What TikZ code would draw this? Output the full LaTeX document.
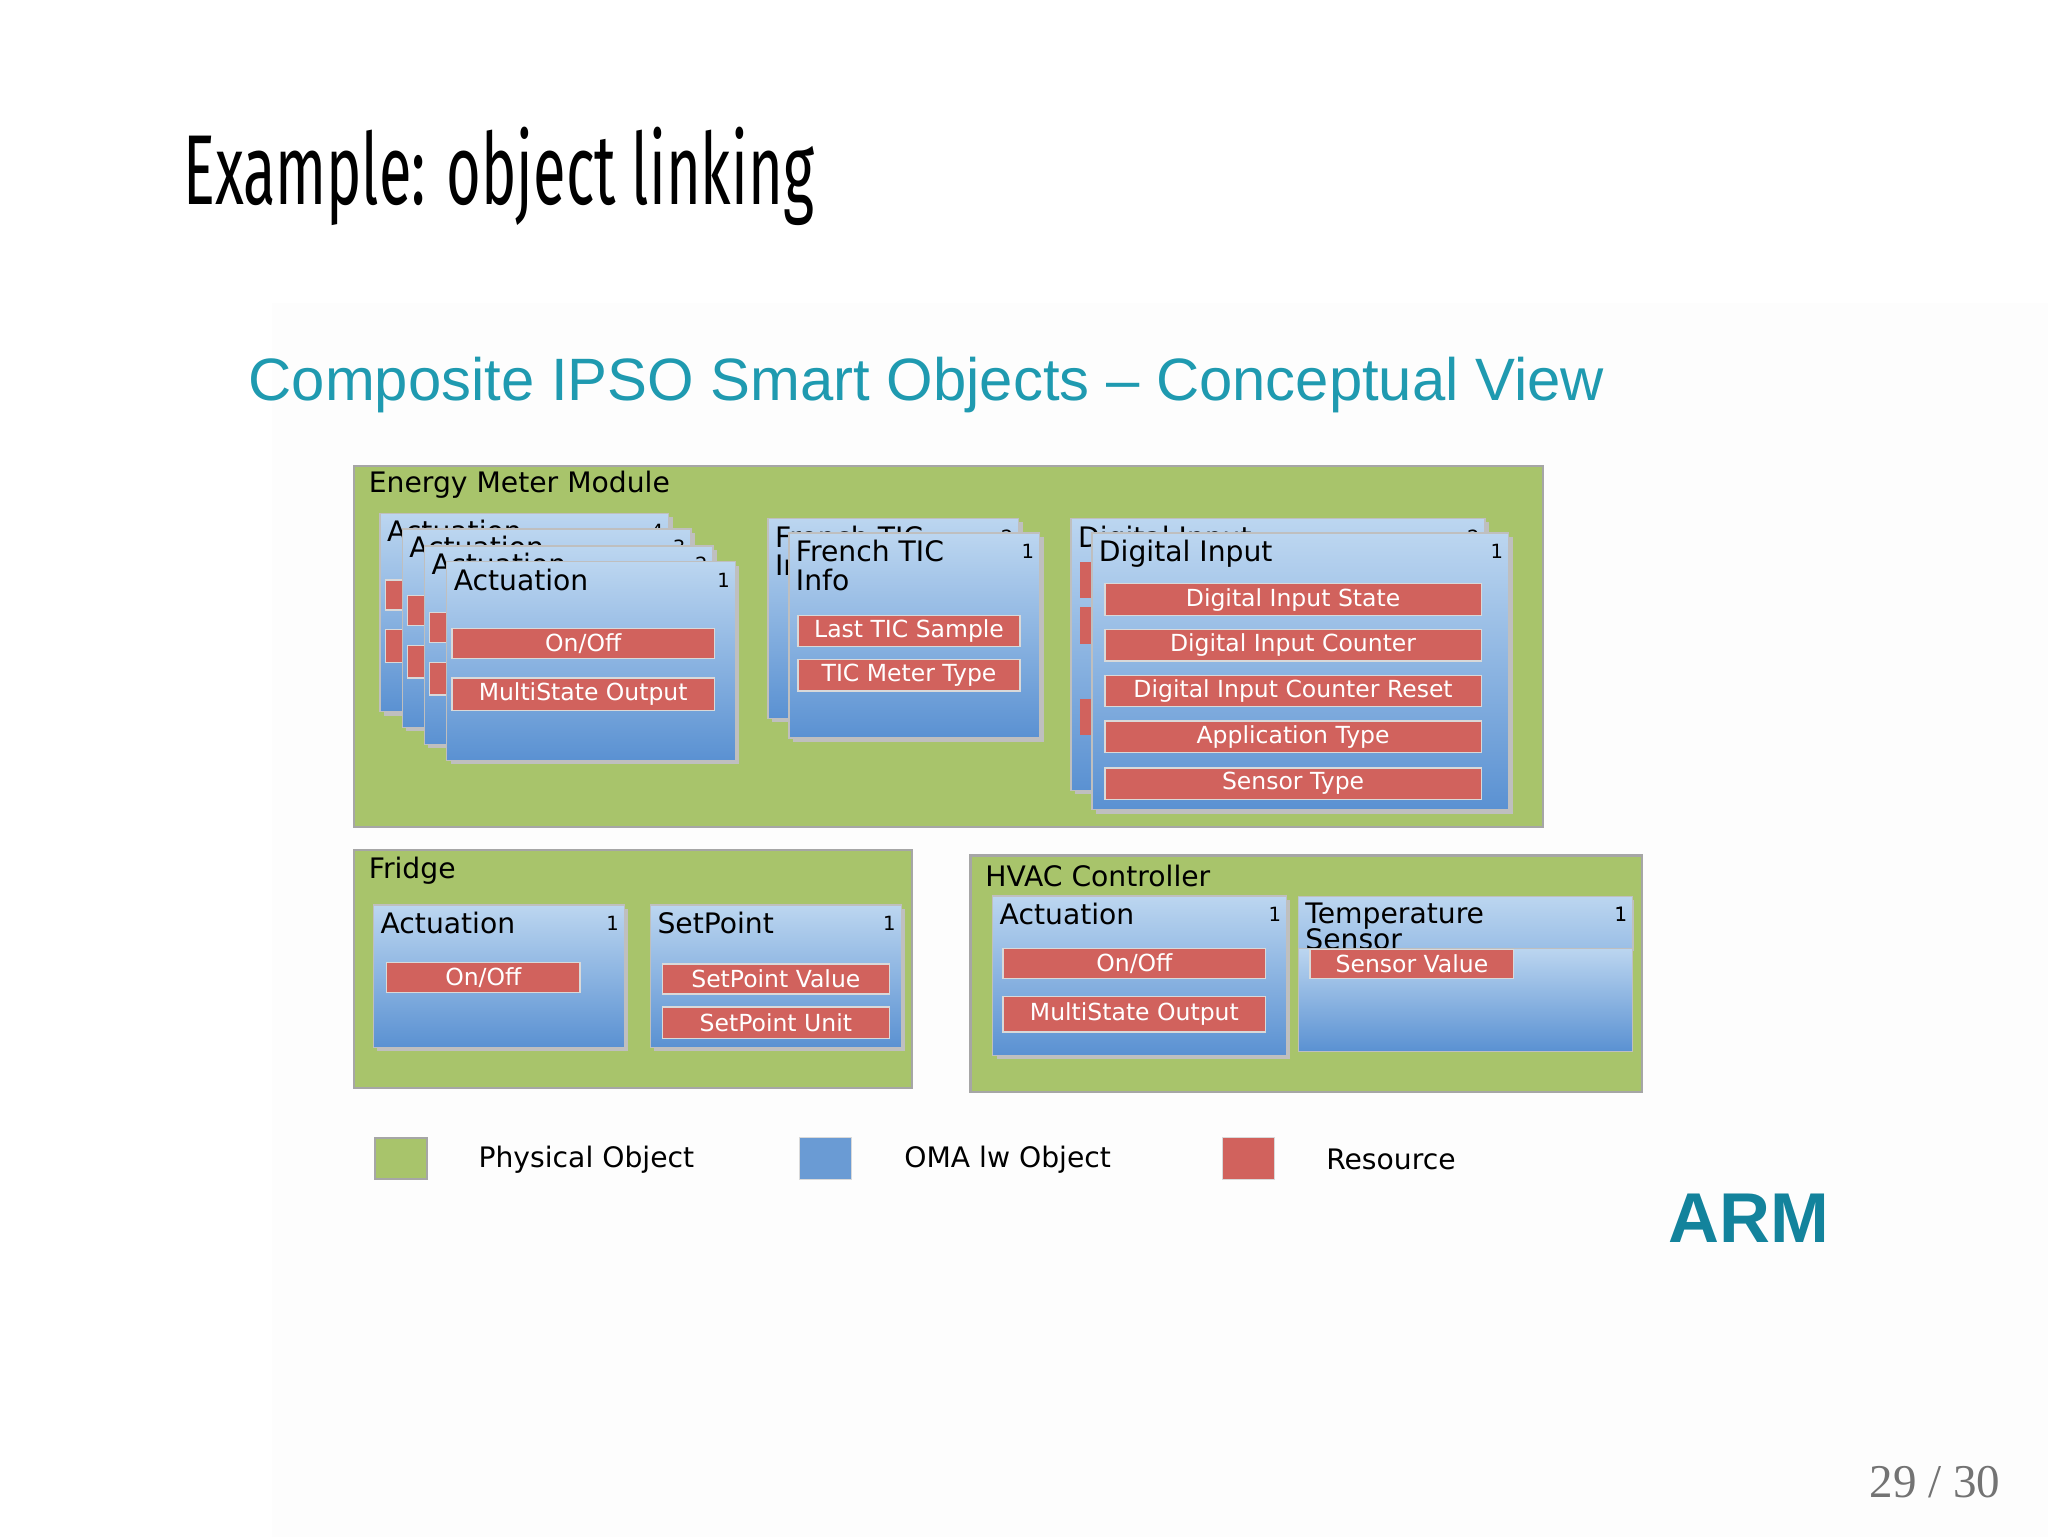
\documentclass[tikz,border=0pt]{standalone}
\usepackage{fontspec}
\setmainfont{DejaVu Sans}
\newfontfamily\subfont{Liberation Sans}
\newfontfamily\titlefont{Fira Sans}
\newfontfamily\numfont{Liberation Serif}
\definecolor{grn}{HTML}{A8C46B}
\definecolor{bltop}{HTML}{BCD6F0}
\definecolor{blbot}{HTML}{5A91D2}
\definecolor{blsw}{HTML}{6A9BD4}
\definecolor{rd}{HTML}{D1625D}
\definecolor{teal}{HTML}{1F9AB0}
\definecolor{armc}{HTML}{13839C}
\tikzset{
  phys/.style={fill=grn,draw=black!35,line width=0.8pt},
  oma/.style={top color=bltop,bottom color=blbot,draw=black!25,line width=0.5pt},
  res/.style={fill=rd,draw=black!15,line width=0.5pt},
  lbl/.style={anchor=west,inner sep=0pt,font=\fontsize{10.8}{11}\selectfont},
  rlbl/.style={text=white,inner sep=0pt,font=\fontsize{9}{9}\selectfont},
  num/.style={inner sep=0pt,font=\fontsize{7.5}{8}\selectfont},
}
\newcommand{\obox}[6]{% x1 y1 x2 y2 title number
  \fill[black!25] (#1+3,#2+3) rectangle (#3+3,#4+3);
  \path[oma] (#1,#2) rectangle (#3,#4);
  \node[lbl,anchor=north west] at (#1+5,#2+5) {#5};
  \node[num] at (#3-9,#2+14) {#6};}
\newcommand{\rbox}[5]{% x1 y1 x2 y2 text
  \path[res] (#1,#2) rectangle (#3,#4);
  \node[rlbl] at ({(#1+#3)/2},{(#2+#4)/2}) {#5};}
\newcommand{\actbox}[3]{% dx dy number
  \obox{#1}{#2}{#1+221}{#2+152}{Actuation}{#3}
  \rbox{#1+4}{#2+51}{#1+205}{#2+74}{On/Off}
  \rbox{#1+4}{#2+89}{#1+205}{#2+114}{MultiState Output}}
\begin{document}
\begin{tikzpicture}[x=0.5pt,y=-0.5pt]
\useasboundingbox (0,0) rectangle (1568,1177);
\fill[white] (0,0) rectangle (1568,1177);
\fill[black!0.7] (208,232) rectangle (1568,1177);
\node[anchor=west,inner sep=0pt,xscale=0.6,font=\titlefont\fontsize{38}{40}\selectfont] (title) at (140,135) {Example: object linking};
\node[anchor=west,inner sep=0pt,text=teal,font=\subfont\fontsize{22.9}{24}\selectfont] (sub) at (190,295) {Composite IPSO Smart Objects – Conceptual View};
% Energy meter module
\path[phys] (271,357) rectangle (1181,633);
\node[lbl] (em) at (282,371) {Energy Meter Module};
\actbox{291}{393}{4}
\actbox{308}{405}{3}
\actbox{325}{418}{2}
\actbox{342}{430}{1}
% French TIC
\obox{588}{397}{780}{550}{\parbox[t]{70pt}{French TIC\\Info}}{2}
\obox{604}{408}{796}{565}{\parbox[t]{70pt}{French TIC\\Info}}{1}
\rbox{611}{471}{781}{495}{Last TIC Sample}
\rbox{611}{505}{781}{529}{TIC Meter Type}
% Digital Input
\obox{820}{397}{1137}{605}{Digital Input}{2}
\fill[rd] (827,430) rectangle (836,458);
\fill[rd] (827,465) rectangle (836,493);
\fill[rd] (827,535) rectangle (836,563);
\obox{836}{408}{1155}{620}{Digital Input}{1}
\rbox{846}{447}{1134}{471}{Digital Input State}
\rbox{846}{482}{1134}{506}{Digital Input Counter}
\rbox{846}{517}{1134}{541}{Digital Input Counter Reset}
\rbox{846}{552}{1134}{576}{Application Type}
\rbox{846}{588}{1134}{612}{Sensor Type}
% Fridge
\path[phys] (271,651) rectangle (698,833);
\node[lbl] (fr) at (282,667) {Fridge};
\obox{286}{693}{478}{802}{Actuation}{1}
\rbox{296}{737}{444}{760}{On/Off}
\obox{498}{693}{690}{802}{SetPoint}{1}
\rbox{507}{738}{681}{761}{SetPoint Value}
\rbox{507}{771}{681}{795}{SetPoint Unit}
% HVAC
\path[phys] (743,655) rectangle (1257,836);
\node[lbl] (hv) at (754,671) {HVAC Controller};
\obox{760}{686}{985}{808}{Actuation}{1}
\rbox{768}{726}{969}{749}{On/Off}
\rbox{768}{763}{969}{790}{MultiState Output}
\begin{scope}
\clip (994,686) rectangle (1251,728);
\obox{994}{686}{1250}{805}{\parbox[t]{100pt}{Temperature\\[-1pt]Sensor}}{1}
\end{scope}
\path[oma] (994,726) rectangle (1250,805);
\node[num] at (1241,700) {1};
\rbox{1003}{727}{1159}{749}{Sensor Value}
% legend
\path[phys] (287,871) rectangle (327,903);
\node[lbl] (l1) at (366,888) {Physical Object};
\path[fill=blsw,draw=black!15] (612,871) rectangle (652,903);
\node[lbl] (l2) at (692,888) {OMA lw Object};
\path[res] (936,871) rectangle (976,903);
\node[lbl] (l3) at (1015,888) {Resource};
\node[anchor=west,inner sep=0pt,text=armc,font=\subfont\fontsize{27}{28}\selectfont\bfseries] (arm) at (1277,933) {ARM};
\node[anchor=east,inner sep=0pt,text=black!55,font=\numfont\fontsize{18}{20}\selectfont] (pg) at (1532,1135) {29 / 30};
\end{tikzpicture}
\end{document}
